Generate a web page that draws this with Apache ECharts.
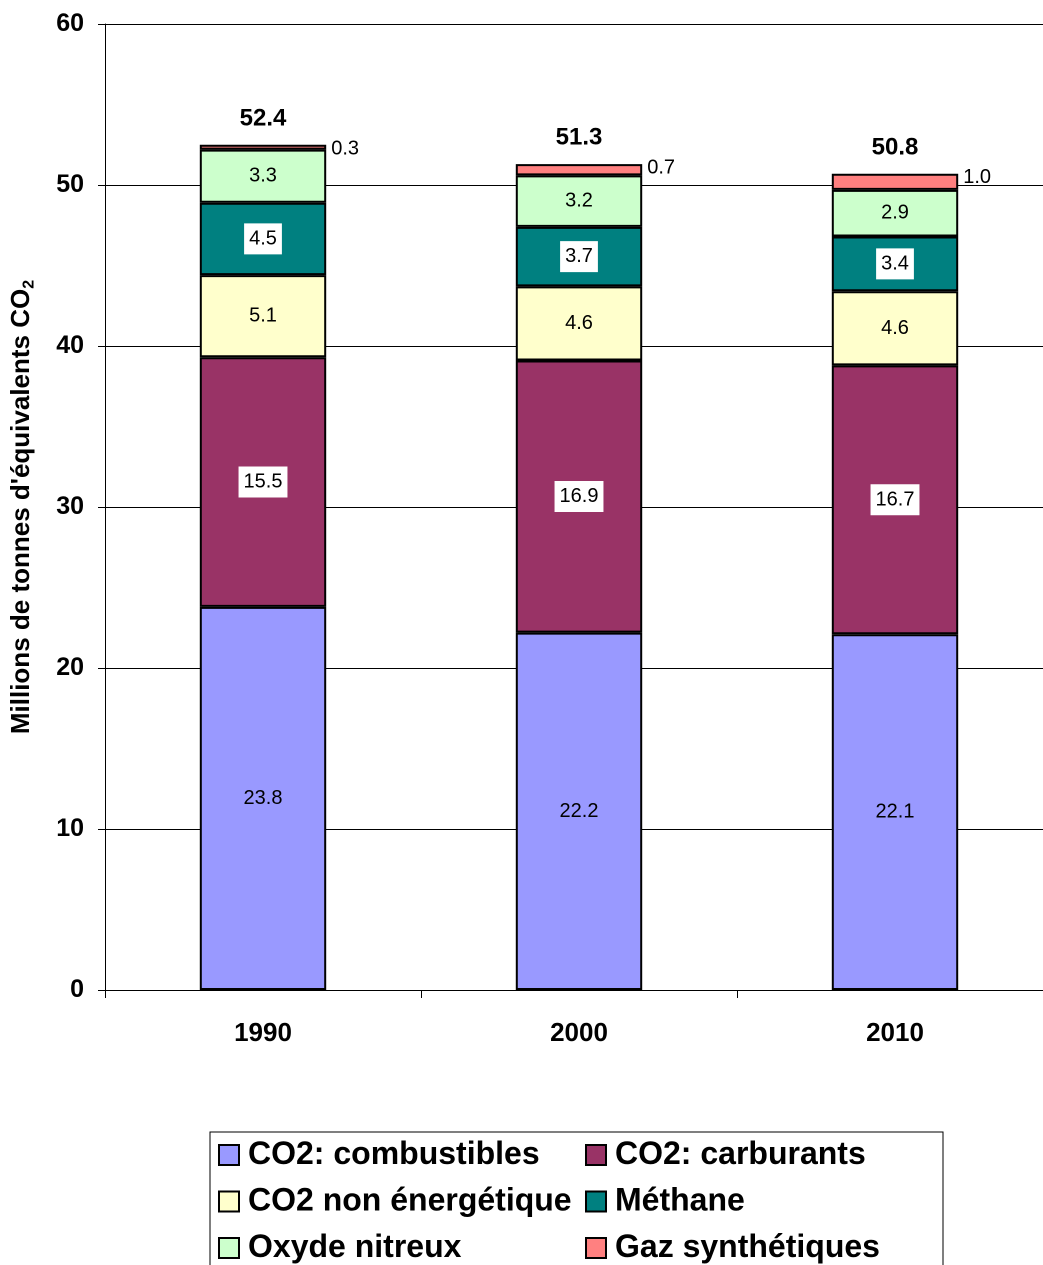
<!DOCTYPE html>
<html><head><meta charset="utf-8">
<script src="https://cdn.jsdelivr.net/npm/echarts@6/dist/echarts.min.js"></script>
<style>html,body{margin:0;padding:0;background:#fff;overflow:hidden}#c{width:1053px;height:1265px}</style>
</head><body><div id="c"></div>
<script>
const categories = ['1990', '2000', '2010'];
const combustibles = [23.8, 22.2, 22.1];
const carburants = [15.5, 16.9, 16.7];
const nonEnergetique = [5.1, 4.6, 4.6];
const methane = [4.5, 3.7, 3.4];
const oxydeNitreux = [3.3, 3.2, 2.9];
const gazSynthetiques = [0.3, 0.7, 1.0];
const totals = [52.4, 51.3, 50.8];
const yTicks = [0, 10, 20, 30, 40, 50, 60];

const F = '"Liberation Sans", Arial, sans-serif';
const plainLabel = {show: true, position: 'inside', color: '#000', fontFamily: F, fontSize: 20,
  formatter: p => p.value.toFixed(1)};
const boxLabel = Object.assign({}, plainLabel, {backgroundColor: '#fff', padding: [6, 5, 5, 5]});

function bar(name, data, color, label) {
  return {name, type: 'bar', stack: 'total', data, barWidth: '40%',
    itemStyle: {color, borderColor: '#000', borderWidth: 2},
    label, emphasis: {disabled: true}};
}
const legendText = {fontFamily: F, fontWeight: 'bold', fontSize: 32, lineHeight: 34, color: '#000', padding: [0, 0, 0, 4]};

const chart = echarts.init(document.getElementById('c'), null, {renderer: 'canvas', devicePixelRatio: 2});
chart.setOption({
  animation: false,
  backgroundColor: '#fff',
  grid: {left: 105, right: 0, top: 24, bottom: 275},
  xAxis: {type: 'category', data: categories,
    axisLine: {lineStyle: {color: '#000', width: 1}},
    axisTick: {show: true, length: 8, lineStyle: {color: '#000'}},
    axisLabel: {fontFamily: F, fontWeight: 'bold', fontSize: 26, color: '#000', margin: 31}},
  yAxis: {type: 'value', min: yTicks[0], max: yTicks[yTicks.length - 1], interval: 10,
    name: 'Millions de tonnes d\'équivalents CO{sub|2}', nameLocation: 'middle', nameGap: 68,
    nameTextStyle: {fontFamily: F, fontWeight: 'bold', fontSize: 26, color: '#000',
      rich: {sub: {fontFamily: F, fontWeight: 'bold', fontSize: 16, color: '#000', verticalAlign: 'bottom', padding: [14, 0, 0, 0]}}},
    axisLine: {show: true, lineStyle: {color: '#000', width: 1}},
    axisTick: {show: true, length: 7, lineStyle: {color: '#000'}},
    axisLabel: {fontFamily: F, fontWeight: 'bold', fontSize: 25, color: '#000', margin: 21},
    splitLine: {lineStyle: {color: '#000', width: 1}}},
  legend: [
    {orient: 'vertical', left: 218, top: 1138, height: 300, padding: 0, icon: 'rect',
     itemWidth: 20, itemHeight: 20, itemGap: 12.5,
     data: ['CO2: combustibles', 'CO2 non énergétique', 'Oxyde nitreux'], textStyle: legendText},
    {orient: 'vertical', left: 585, top: 1138, height: 300, padding: 0, icon: 'rect',
     itemWidth: 20, itemHeight: 20, itemGap: 12.5,
     data: ['CO2: carburants', 'Méthane', 'Gaz synthétiques'], textStyle: legendText}
  ],
  graphic: [{type: 'rect', left: 207.5, top: 1129.5, shape: {width: 733, height: 160},
    style: {fill: 'none', stroke: '#000', lineWidth: 1}, z: -1}],
  series: [
    bar('CO2: combustibles', combustibles, '#9999FF', plainLabel),
    bar('CO2: carburants', carburants, '#993366', boxLabel),
    bar('CO2 non énergétique', nonEnergetique, '#FFFFCC', plainLabel),
    bar('Méthane', methane, '#008080', boxLabel),
    bar('Oxyde nitreux', oxydeNitreux, '#CCFFCC', plainLabel),
    bar('Gaz synthétiques', gazSynthetiques, '#FF8080',
      Object.assign({}, plainLabel, {position: ['100%', -6], offset: [5, 0]})),
    {name: 'Total', type: 'bar', stack: 'total', data: totals.map(() => 0), barWidth: '40%',
     itemStyle: {color: 'transparent', borderWidth: 0}, silent: true,
     label: {show: true, position: 'top', distance: 14, fontFamily: F, fontWeight: 'bold', fontSize: 24, color: '#000',
       formatter: p => totals[p.dataIndex].toFixed(1)}}
  ]
});
</script></body></html>
